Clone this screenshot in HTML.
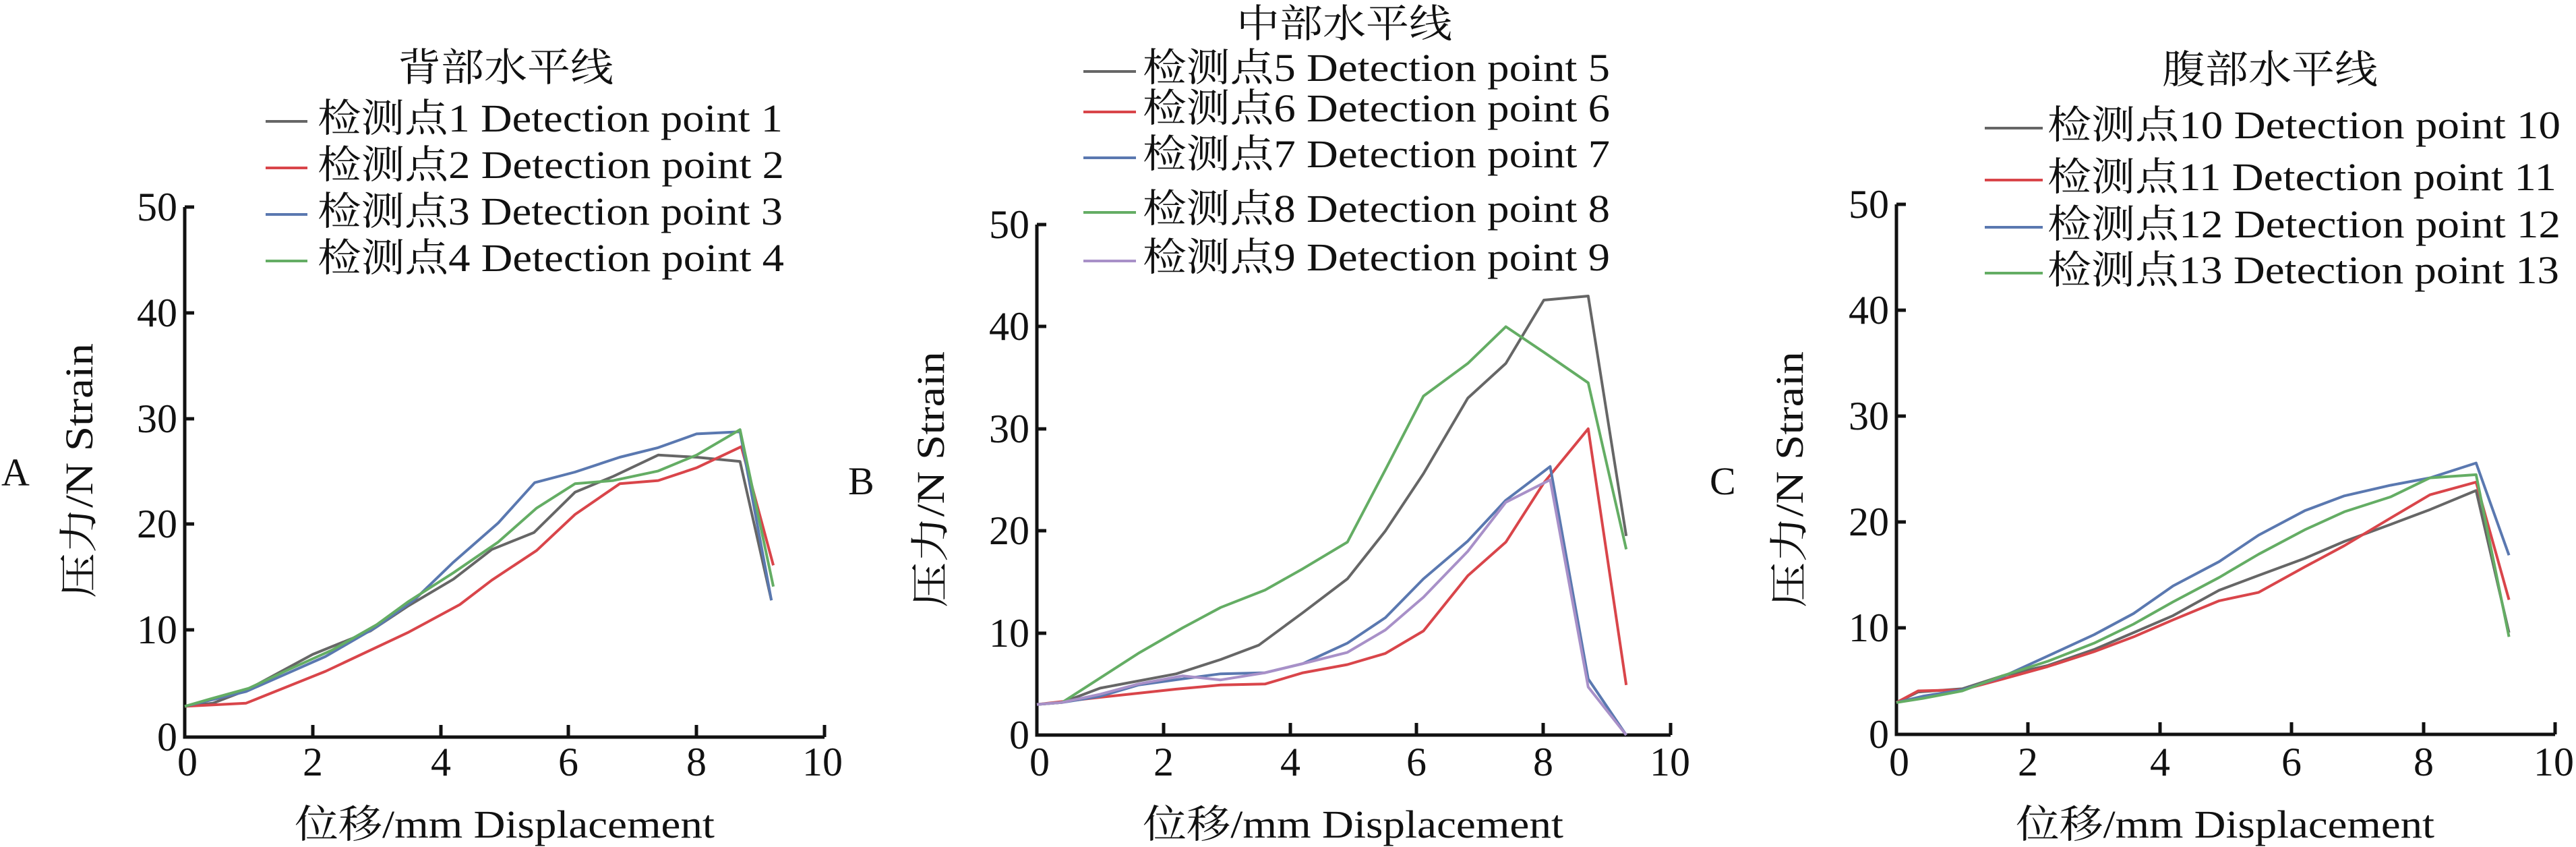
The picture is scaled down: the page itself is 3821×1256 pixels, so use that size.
<!DOCTYPE html>
<html><head><meta charset="utf-8"><style>
html,body{margin:0;padding:0;background:#fff;}
svg{display:block;}
text{font-family:"Liberation Serif","Noto Serif CJK SC","Noto Sans CJK SC",serif;fill:#111;}
</style></head><body>
<svg id="s" xmlns="http://www.w3.org/2000/svg" width="3821" height="1256" viewBox="0 0 3821 1256">
<rect width="3821" height="1256" fill="#fff"/>
<!-- Panel letters -->
<text x="2" y="720" font-size="58">A</text>
<text x="1258" y="733" font-size="58">B</text>
<text x="2536" y="733" font-size="58">C</text>

<!-- ===== Panel A ===== -->
<g stroke="#111" stroke-width="5" fill="none">
<path d="M274,307 V1093 H1223"/>
<path d="M274,307 h14 M274,464 h14 M274,621 h14 M274,777 h14 M274,934 h14"/>
<path d="M464,1093 v-18 M654,1093 v-18 M843,1093 v-18 M1033,1093 v-18 M1223,1093 v-18"/>
</g>
<g font-size="60" text-anchor="end">
<text x="263" y="1113">0</text><text x="263" y="954">10</text><text x="263" y="797">20</text><text x="263" y="641">30</text><text x="263" y="484">40</text><text x="263" y="327">50</text>
</g>
<g font-size="60" text-anchor="middle">
<text x="278" y="1150">0</text><text x="464" y="1150">2</text><text x="654" y="1150">4</text><text x="843" y="1150">6</text><text x="1033" y="1150">8</text><text x="1220" y="1150">10</text>
</g>
<text x="750" y="120" font-size="58" text-anchor="middle" textLength="320" lengthAdjust="spacingAndGlyphs">背部水平线</text>
<g font-size="58">
<text x="471" y="195" textLength="690" lengthAdjust="spacingAndGlyphs">检测点1 Detection point 1</text>
<text x="471" y="264" textLength="692" lengthAdjust="spacingAndGlyphs">检测点2 Detection point 2</text>
<text x="471" y="333" textLength="690" lengthAdjust="spacingAndGlyphs">检测点3 Detection point 3</text>
<text x="471" y="402" textLength="692" lengthAdjust="spacingAndGlyphs">检测点4 Detection point 4</text>
</g>
<g stroke-width="4">
<line x1="394" y1="180" x2="456" y2="180" stroke="#666"/>
<line x1="394" y1="249" x2="456" y2="249" stroke="#d9454a"/>
<line x1="394" y1="318" x2="456" y2="318" stroke="#5a78b0"/>
<line x1="394" y1="387" x2="456" y2="387" stroke="#64ad64"/>
</g>
<text x="437" y="1242" font-size="58" textLength="623" lengthAdjust="spacingAndGlyphs">位移/mm Displacement</text>
<text transform="translate(137,887) rotate(-90)" font-size="58" textLength="378" lengthAdjust="spacingAndGlyphs">压力/N Strain</text>

<!-- ===== Panel B ===== -->
<g stroke="#111" stroke-width="5" fill="none">
<path d="M1538,333 V1090 H2478"/>
<path d="M1538,333 h14 M1538,484 h14 M1538,636 h14 M1538,787 h14 M1538,939 h14"/>
<path d="M1726,1090 v-18 M1914,1090 v-18 M2101,1090 v-18 M2289,1090 v-18 M2478,1090 v-18"/>
</g>
<g font-size="60" text-anchor="end">
<text x="1527" y="1110">0</text><text x="1527" y="959">10</text><text x="1527" y="807">20</text><text x="1527" y="656">30</text><text x="1527" y="504">40</text><text x="1527" y="353">50</text>
</g>
<g font-size="60" text-anchor="middle">
<text x="1542" y="1150">0</text><text x="1726" y="1150">2</text><text x="1914" y="1150">4</text><text x="2101" y="1150">6</text><text x="2289" y="1150">8</text><text x="2477" y="1150">10</text>
</g>
<text x="1994" y="55" font-size="58" text-anchor="middle" textLength="320" lengthAdjust="spacingAndGlyphs">中部水平线</text>
<g font-size="58">
<text x="1695" y="120" textLength="693" lengthAdjust="spacingAndGlyphs">检测点5 Detection point 5</text>
<text x="1695" y="180" textLength="693" lengthAdjust="spacingAndGlyphs">检测点6 Detection point 6</text>
<text x="1695" y="248" textLength="693" lengthAdjust="spacingAndGlyphs">检测点7 Detection point 7</text>
<text x="1695" y="329" textLength="693" lengthAdjust="spacingAndGlyphs">检测点8 Detection point 8</text>
<text x="1695" y="401" textLength="693" lengthAdjust="spacingAndGlyphs">检测点9 Detection point 9</text>
</g>
<g stroke-width="4">
<line x1="1607" y1="106" x2="1685" y2="106" stroke="#666"/>
<line x1="1607" y1="166" x2="1685" y2="166" stroke="#d9454a"/>
<line x1="1607" y1="234" x2="1685" y2="234" stroke="#5a78b0"/>
<line x1="1607" y1="315" x2="1685" y2="315" stroke="#64ad64"/>
<line x1="1607" y1="387" x2="1685" y2="387" stroke="#a890c8"/>
</g>
<text x="1695" y="1242" font-size="58" textLength="624" lengthAdjust="spacingAndGlyphs">位移/mm Displacement</text>
<text transform="translate(1400,901) rotate(-90)" font-size="58" textLength="380" lengthAdjust="spacingAndGlyphs">压力/N Strain</text>

<!-- ===== Panel C ===== -->
<g stroke="#111" stroke-width="5" fill="none">
<path d="M2813,303 V1089 H3790"/>
<path d="M2813,303 h14 M2813,460 h14 M2813,617 h14 M2813,774 h14 M2813,931 h14"/>
<path d="M3008,1089 v-18 M3204,1089 v-18 M3399,1089 v-18 M3595,1089 v-18 M3790,1089 v-18"/>
</g>
<g font-size="60" text-anchor="end">
<text x="2802" y="1109">0</text><text x="2802" y="951">10</text><text x="2802" y="794">20</text><text x="2802" y="637">30</text><text x="2802" y="480">40</text><text x="2802" y="323">50</text>
</g>
<g font-size="60" text-anchor="middle">
<text x="2817" y="1150">0</text><text x="3008" y="1150">2</text><text x="3204" y="1150">4</text><text x="3399" y="1150">6</text><text x="3595" y="1150">8</text><text x="3788" y="1150">10</text>
</g>
<text x="3367" y="123" font-size="58" text-anchor="middle" textLength="320" lengthAdjust="spacingAndGlyphs">腹部水平线</text>
<g font-size="58">
<text x="3037" y="205" textLength="761" lengthAdjust="spacingAndGlyphs">检测点10 Detection point 10</text>
<text x="3037" y="282" textLength="755" lengthAdjust="spacingAndGlyphs">检测点11 Detection point 11</text>
<text x="3037" y="352" textLength="761" lengthAdjust="spacingAndGlyphs">检测点12 Detection point 12</text>
<text x="3037" y="420" textLength="759" lengthAdjust="spacingAndGlyphs">检测点13 Detection point 13</text>
</g>
<g stroke-width="4">
<line x1="2944" y1="190" x2="3030" y2="190" stroke="#666"/>
<line x1="2944" y1="267" x2="3030" y2="267" stroke="#d9454a"/>
<line x1="2944" y1="337" x2="3030" y2="337" stroke="#5a78b0"/>
<line x1="2944" y1="405" x2="3030" y2="405" stroke="#64ad64"/>
</g>
<text x="2990" y="1242" font-size="58" textLength="621" lengthAdjust="spacingAndGlyphs">位移/mm Displacement</text>
<text transform="translate(2674,901) rotate(-90)" font-size="58" textLength="380" lengthAdjust="spacingAndGlyphs">压力/N Strain</text>

<g id="series" fill="none" stroke-width="4" stroke-linejoin="round"></g>
</svg>
<script>
(function(){
var C={k:"#666",r:"#d9454a",b:"#5a78b0",g:"#64ad64",p:"#a890c8"};
var panels=[
 {x0:274,xs:94.9,y0:1093,ys:15.72,s:[
  ["k",[[0,2.9],[0.44,3.2],[0.96,4.4],[2.0,7.8],[2.9,10],[3.5,12.4],[4.2,14.9],[4.8,17.7],[5.46,19.3],[6.1,23.1],[6.7,24.6],[7.4,26.6],[8.0,26.4],[8.68,26.0],[9.17,12.9]]],
  ["r",[[0,2.9],[0.96,3.2],[2.2,6.2],[3.5,9.9],[4.3,12.5],[4.8,14.8],[5.5,17.6],[6.1,21],[6.8,23.9],[7.4,24.2],[8.0,25.4],[8.7,27.4],[9.2,16.2]]],
  ["b",[[0,2.9],[0.96,4.3],[1.6,6.0],[2.2,7.6],[3.0,10.4],[3.6,13],[4.2,16.5],[4.9,20.2],[5.47,24.0],[6.1,25],[6.8,26.4],[7.4,27.3],[8.0,28.6],[8.68,28.8],[9.17,12.9]]],
  ["g",[[0,2.9],[0.4,3.6],[1.0,4.6],[1.6,6.3],[2.3,8.2],[3.0,10.6],[3.5,12.8],[4.2,15.5],[4.9,18.4],[5.5,21.6],[6.1,23.9],[6.7,24.2],[7.4,25.1],[8.0,26.6],[8.68,29],[9.2,14.2]]]
 ]},
 {x0:1538,xs:94.0,y0:1090,ys:15.14,s:[
  ["k",[[0,3],[0.4,3.2],[1.0,4.6],[2.2,6],[2.9,7.4],[3.5,8.8],[4.2,12],[4.9,15.3],[5.5,20],[6.1,25.6],[6.8,33],[7.4,36.4],[8.0,42.6],[8.7,43],[9.3,19.5]]],
  ["r",[[0,3],[1,3.7],[2.2,4.5],[2.9,4.9],[3.6,5],[4.2,6.1],[4.9,6.9],[5.5,8],[6.1,10.2],[6.8,15.6],[7.4,18.9],[8.0,24.7],[8.7,30],[9.3,4.9]]],
  ["b",[[0,3],[0.4,3.2],[1.0,3.8],[1.6,4.9],[2.3,5.5],[2.9,6.0],[3.6,6.1],[4.2,7.0],[4.9,9],[5.5,11.5],[6.1,15.3],[6.8,19],[7.4,23],[8.1,26.3],[8.7,5.5],[9.3,0]]],
  ["g",[[0,3],[0.4,3.2],[1.6,8],[2.3,10.5],[2.9,12.5],[3.6,14.2],[4.2,16.3],[4.9,18.9],[5.5,26],[6.1,33.2],[6.8,36.4],[7.4,40],[8.0,37.5],[8.7,34.5],[9.3,18.2]]],
  ["p",[[0,3],[0.4,3.2],[1.0,4],[1.6,5],[2.3,5.8],[2.9,5.4],[3.6,6.1],[4.2,7],[4.9,8.1],[5.5,10.3],[6.1,13.5],[6.8,18],[7.4,22.8],[8.1,25],[8.7,4.7],[9.3,0]]]
 ]},
 {x0:2813,xs:97.7,y0:1089,ys:15.72,s:[
  ["k",[[0,3],[0.33,4.0],[1.0,4.3],[1.6,5.5],[2.3,6.5],[3.0,8],[3.6,9.6],[4.2,11.2],[4.9,13.6],[5.5,15],[6.2,16.6],[6.8,18.2],[7.5,19.8],[8.1,21.2],[8.8,23],[9.3,9.6]]],
  ["r",[[0,3],[0.33,4.1],[1,4.2],[1.6,5.2],[2.3,6.4],[3,7.8],[3.6,9.2],[4.2,10.8],[4.9,12.6],[5.5,13.4],[6.2,15.8],[6.8,17.8],[7.5,20.4],[8.1,22.6],[8.8,23.8],[9.3,12.7]]],
  ["b",[[0,3],[0.4,3.6],[1,4.2],[1.6,5.4],[2.3,7.4],[3,9.4],[3.6,11.4],[4.2,14],[4.9,16.3],[5.5,18.8],[6.2,21.1],[6.8,22.5],[7.5,23.5],[8.1,24.2],[8.8,25.6],[9.3,16.9]]],
  ["g",[[0,3],[0.4,3.4],[1,4.1],[1.6,5.5],[2.3,6.9],[3,8.6],[3.6,10.4],[4.2,12.5],[4.9,14.8],[5.5,17],[6.2,19.3],[6.8,21],[7.5,22.4],[8.1,24.2],[8.8,24.5],[9.3,9.2]]]
 ]}
];
var g=document.getElementById("series"),ns="http://www.w3.org/2000/svg";
panels.forEach(function(P){P.s.forEach(function(S){
 var pl=document.createElementNS(ns,"polyline");
 pl.setAttribute("points",S[1].map(function(p){return (P.x0+p[0]*P.xs).toFixed(1)+","+(P.y0-p[1]*P.ys).toFixed(1);}).join(" "));
 pl.setAttribute("stroke",C[S[0]]);
 g.appendChild(pl);
});});
})();
</script>
</body></html>
